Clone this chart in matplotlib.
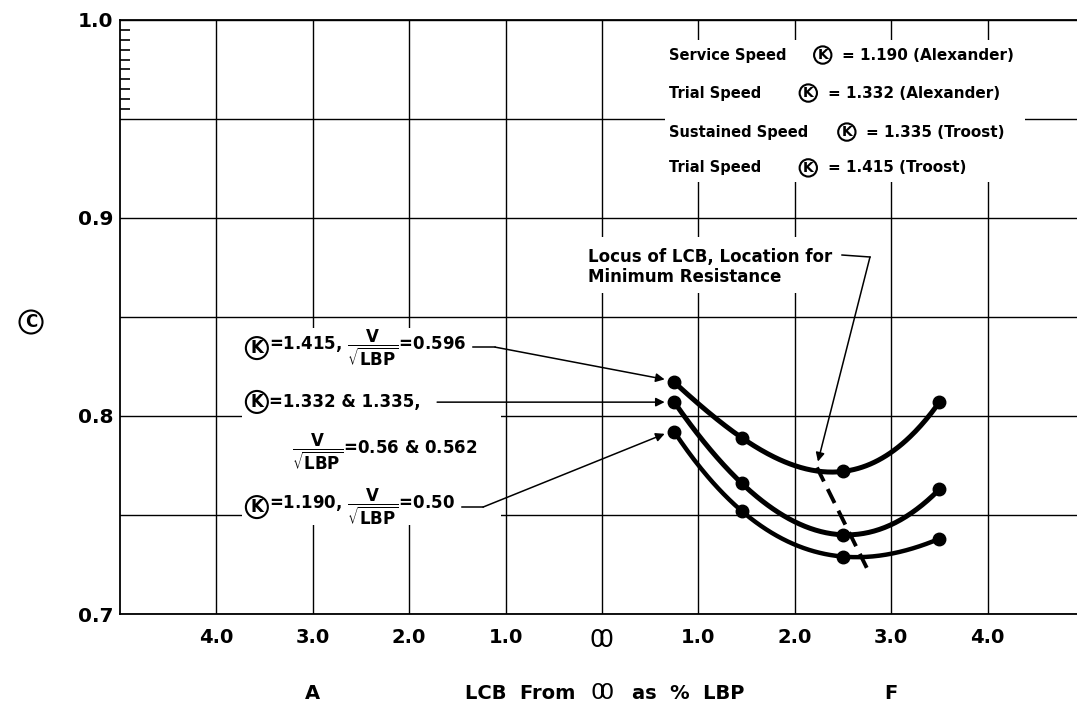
"""
Block coefficient vs LCB position chart (redrawn from a scanned figure)
"""
import numpy as np
import matplotlib
matplotlib.use("Agg")
import matplotlib.pyplot as plt
from matplotlib.patches import Rectangle

plt.rcParams['font.family'] = ['DejaVu Sans']
plt.rcParams['mathtext.fontset'] = 'dejavusans'

# Data (LCB in % LBP, + = forward of midship)
lcb_pct = [0.75, 1.45, 2.5, 3.5]
c_k1415 = [0.817, 0.789, 0.772, 0.807]
c_k1332 = [0.807, 0.766, 0.740, 0.763]
c_k1190 = [0.792, 0.752, 0.729, 0.738]

# locus of LCB for minimum resistance (dashed)
locus_x = [2.23, 2.76]
locus_y = [0.774, 0.722]

MIDSHIP = r'$0\!\!\!\;0$'   # two overlapping rings, the naval midship mark
x_ticks = [-4, -3, -2, -1, 0, 1, 2, 3, 4]
x_labels = ['4.0', '3.0', '2.0', '1.0', MIDSHIP, '1.0', '2.0', '3.0', '4.0']
y_ticks = [0.70, 0.75, 0.80, 0.85, 0.90, 0.95, 1.00]
y_labels = ['0.7', '', '0.8', '', '0.9', '', '1.0']
y_minor = [0.955, 0.96, 0.965, 0.97, 0.975, 0.98, 0.985, 0.99, 0.995]

speed_names = ['Service Speed', 'Trial Speed', 'Sustained Speed', 'Trial Speed']
speed_values = ['= 1.190 (Alexander)', '= 1.332 (Alexander)',
                '= 1.335 (Troost)', '= 1.415 (Troost)']

fig = plt.figure(figsize=(10.77, 7.06), dpi=100)
ax = fig.add_axes([0.1114, 0.1303, 0.8951, 0.8414])
ax.set_xlim(-5, 5)
ax.set_ylim(0.7, 1.0)
xt = ax.get_xaxis_transform()

for side in ['left', 'bottom', 'top']:
    ax.spines[side].set_linewidth(1.3)
ax.spines['right'].set_visible(False)

ax.set_xticks(x_ticks)
ax.set_xticklabels(x_labels, fontsize=14, fontweight='bold')
mid_lbl = ax.get_xticklabels()[4]
mid_lbl.set_fontsize(17)
ax.set_yticks(y_ticks)
ax.set_yticklabels(y_labels, fontsize=14.5, fontweight='bold')
ax.set_yticks(y_minor, minor=True)
ax.tick_params(axis='both', which='major', length=0)
ax.tick_params(axis='x', which='major', pad=10)
ax.tick_params(axis='y', which='major', pad=5)
ax.tick_params(axis='y', which='minor', direction='in', length=7, width=1.2)
ax.grid(True, which='major', color='black', lw=1.0)
ax.set_axisbelow(True)

# white backing behind the text blocks (they hide the grid in the original)
ax.add_patch(Rectangle((0.65, 0.918), 3.74, 0.072, fc='white', ec='none', zorder=1))
ax.add_patch(Rectangle((-3.73, 0.745), 2.68, 0.0995, fc='white', ec='none', zorder=1))
ax.add_patch(Rectangle((-0.18, 0.862), 2.74, 0.0285, fc='white', ec='none', zorder=1))

# curves
for ys, lw in [(c_k1415, 3.6), (c_k1332, 3.6), (c_k1190, 3.2)]:
    coef = np.polyfit(lcb_pct, ys, 3)
    xs = np.linspace(lcb_pct[0], lcb_pct[-1], 200)
    ax.plot(xs, np.polyval(coef, xs), color='black', lw=lw,
            solid_capstyle='round', zorder=3)
    ax.plot(lcb_pct, ys, 'o', color='black', ms=9, zorder=4)

ax.plot(locus_x, locus_y, color='black', lw=2.8, dashes=(4, 2.2), zorder=3)


def circled(x, y, s, size=11):
    ax.text(x, y, s, ha='center', va='center', fontsize=size, fontweight='bold',
            bbox=dict(boxstyle='circle,pad=0.12', fc='white', ec='black', lw=1.5),
            zorder=5)


# speed key, top right
row_y = [0.9823, 0.9631, 0.9434, 0.9253]
k_x = [2.29, 2.14, 2.54, 2.14]
for name, val, y, kx in zip(speed_names, speed_values, row_y, k_x):
    ax.text(0.69, y, name, fontsize=10.5, fontweight='bold', va='center', zorder=5)
    circled(kx, y, 'K', size=10)
    ax.text(kx + 0.2, y, val, fontsize=11, fontweight='bold', va='center', zorder=5)

# left annotations
frac = r'$\dfrac{\mathbf{V}}{\sqrt{\mathbf{LBP}}}$'
circled(-3.58, 0.8343, 'K', size=12)
ax.text(-3.45, 0.8343, '=1.415, ' + frac + '=0.596', fontsize=12,
        fontweight='bold', va='center', zorder=5)
circled(-3.58, 0.8071, 'K', size=12)
ax.text(-3.45, 0.8071, '=1.332 & 1.335,', fontsize=12,
        fontweight='bold', va='center', zorder=5)
ax.text(-3.22, 0.7818, frac + '=0.56 & 0.562', fontsize=12,
        fontweight='bold', va='center', zorder=5)
circled(-3.58, 0.7540, 'K', size=12)
ax.text(-3.45, 0.7540, '=1.190, ' + frac + '=0.50', fontsize=12,
        fontweight='bold', va='center', zorder=5)

arrow = dict(arrowstyle='-|>', color='black', lw=1.1, mutation_scale=13,
             shrinkA=0, shrinkB=0)
ax.plot([-1.338, -1.11], [0.8348, 0.8348], color='black', lw=1.1)
ax.annotate('', xy=(lcb_pct[0] - 0.1, c_k1415[0] + 0.0015),
            xytext=(-1.11, 0.8348), arrowprops=arrow)
ax.annotate('', xy=(lcb_pct[0] - 0.1, c_k1332[0]),
            xytext=(-1.71, c_k1332[0]), arrowprops=arrow)
ax.plot([-1.452, -1.234], [0.754, 0.754], color='black', lw=1.1)
ax.annotate('', xy=(lcb_pct[0] - 0.1, c_k1190[0] - 0.001),
            xytext=(-1.234, 0.754), arrowprops=arrow)

# locus label
ax.text(-0.15, 0.8803, 'Locus of LCB, Location for', fontsize=12,
        fontweight='bold', va='center', zorder=5)
ax.text(-0.15, 0.8703, 'Minimum Resistance', fontsize=12,
        fontweight='bold', va='center', zorder=5)
ax.plot([2.49, 2.78], [0.8813, 0.8803], color='black', lw=1.1)
ax.annotate('', xy=(locus_x[0] + 0.01, locus_y[0] + 0.003),
            xytext=(2.78, 0.8803), arrowprops=arrow)

# axis captions
cap_y = -0.133
ax.text(-3, cap_y, 'A', transform=xt, ha='center', va='center',
        fontsize=14, fontweight='bold')
ax.text(3, cap_y, 'F', transform=xt, ha='center', va='center',
        fontsize=14, fontweight='bold')
ax.text(-0.28, cap_y, 'LCB  From', transform=xt, ha='right', va='center',
        fontsize=14, fontweight='bold')
ax.text(0, cap_y, MIDSHIP, transform=xt, ha='center', va='center', fontsize=16)
ax.text(0.31, cap_y, 'as  %  LBP', transform=xt, ha='left', va='center',
        fontsize=14, fontweight='bold')
fig.text(0.0288, 0.5439, 'C', ha='center', va='center', fontsize=12,
         fontweight='bold',
         bbox=dict(boxstyle='circle,pad=0.15', fc='white', ec='black', lw=1.5))

fig.savefig('out.png', dpi=100)
